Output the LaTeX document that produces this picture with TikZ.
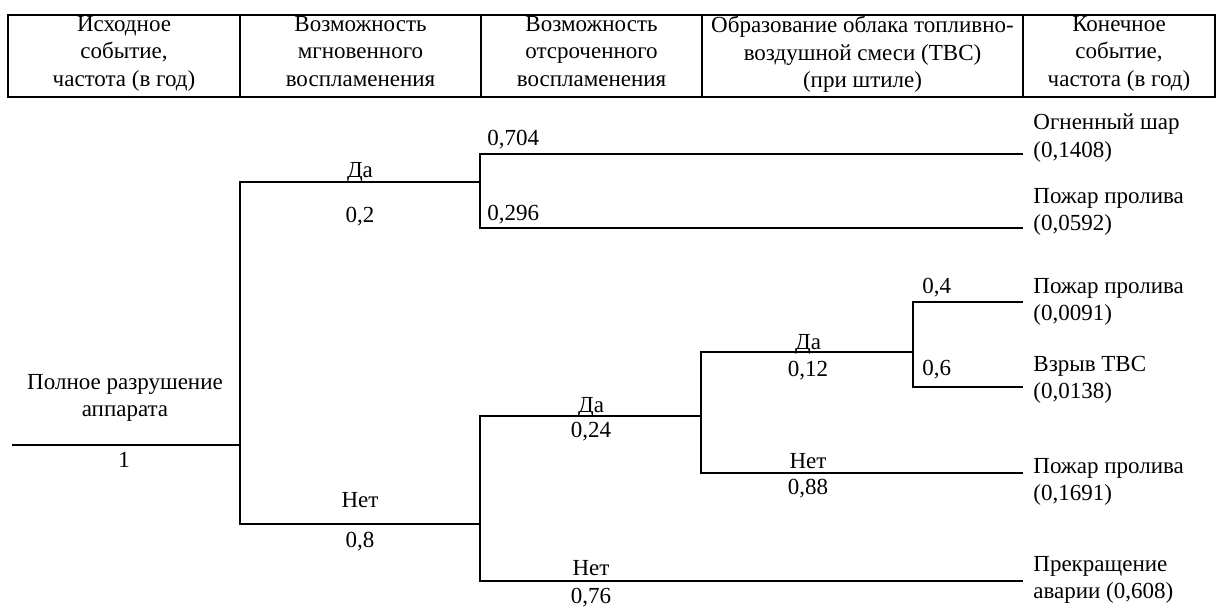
\documentclass[tikz,border=0pt]{standalone}
\usepackage{fontspec}
\setmainfont{Liberation Serif}
\newcommand{\treefont}{\fontsize{11.5}{13.75}\selectfont}
\tikzset{
  branch/.style={line width=1pt},
  lbl/.style={font=\treefont,inner sep=0pt,anchor=base},
  lblw/.style={lbl,anchor=base west},
  headtxt/.style={font=\treefont,inner sep=0pt,align=center,anchor=north,execute at begin node=\strut},
  endtxt/.style={font=\treefont,inner sep=0pt,align=left,anchor=north west,execute at begin node=\strut},
}

\begin{document}
\begin{tikzpicture}[x=0.5pt,y=-0.5pt]
\useasboundingbox (0,0) rectangle (1218,606);
% header
\draw[branch] (8,15) rectangle (1215,97);
\draw[branch] (240,15) -- (240,97);
\draw[branch] (481,15) -- (481,97);
\draw[branch] (702,15) -- (702,97);
\draw[branch] (1023,15) -- (1023,97);
\node[headtxt] (h1) at (124,15.75) {Исходное\\событие,\\частота (в год)};
\node[headtxt] (h2) at (360.5,15.75) {Возможность\\мгновенного\\воспламенения};
\node[headtxt] (h3) at (591.5,15.75) {Возможность\\отсроченного\\воспламенения};
\node[headtxt] (h4) at (862.5,15.75) {Образование облака топливно-\\воздушной смеси (ТВС)\\(при штиле)};
\node[headtxt] (h5) at (1119,15.75) {Конечное\\событие,\\частота (в год)};
% junctions
\coordinate (root) at (12,445);
\coordinate (j1) at (240,445);
\coordinate (j1u) at (240,182);
\coordinate (j1d) at (240,524);
\coordinate (j2) at (480,182);
\coordinate (j2u) at (480,154);
\coordinate (j2d) at (480,228);
\coordinate (j3) at (480,524);
\coordinate (j3u) at (480,416);
\coordinate (j3d) at (480,581);
\coordinate (j4) at (701,416);
\coordinate (j4u) at (701,352);
\coordinate (j4d) at (701,473);
\coordinate (j5) at (913,352);
\coordinate (j5u) at (913,302);
\coordinate (j5d) at (913,387);
% ends
\coordinate (f1) at (1023,154);
\coordinate (f2) at (1023,228);
\coordinate (f3) at (1023,302);
\coordinate (f4) at (1023,387);
\coordinate (f5) at (1023,473);
\coordinate (f6) at (1023,581);
% tree
\draw[branch] (root) -- (j1);
\draw[branch] (j2) -- (j1u) -- (j1d) -- (j3);
\draw[branch] (f1) -- (j2u) -- (j2d) -- (f2);
\draw[branch] (j4) -- (j3u) -- (j3d) -- (f6);
\draw[branch] (j5) -- (j4u) -- (j4d) -- (f5);
\draw[branch] (f3) -- (j5u) -- (j5d) -- (f4);
% labels
\node[headtxt] (start) at (125,373.75) {Полное разрушение\\аппарата};
\node[lbl] (one) at (124,467) {1};
\node[lbl] (da1) at (360,177) {Да};
\node[lbl] (p1) at (360,222) {0,2};
\node[lbl] (net1) at (360,507) {Нет};
\node[lbl] (p2) at (360,547) {0,8};
\node[lblw] (p3) at (487,145) {0,704};
\node[lblw] (p4) at (487,220) {0,296};
\node[lbl] (da2) at (591,412) {Да};
\node[lbl] (p5) at (591,437) {0,24};
\node[lbl] (net2) at (591,575) {Нет};
\node[lbl] (p6) at (591,603) {0,76};
\node[lbl] (da3) at (808,349) {Да};
\node[lbl] (p7) at (808,376) {0,12};
\node[lbl] (net3) at (808,468) {Нет};
\node[lbl] (p8) at (808,494) {0,88};
\node[lblw] (p9) at (922,293) {0,4};
\node[lblw] (p10) at (922,375) {0,6};
% end events
\node[endtxt] (e1) at (1033,113.75) {Огненный шар\\(0,1408)};
\node[endtxt] (e2) at (1033,187.75) {Пожар пролива\\(0,0592)};
\node[endtxt] (e3) at (1033,277.75) {Пожар пролива\\(0,0091)};
\node[endtxt] (e4) at (1033,355.75) {Взрыв ТВС\\(0,0138)};
\node[endtxt] (e5) at (1033,457.75) {Пожар пролива\\(0,1691)};
\node[endtxt] (e6) at (1033,555.75) {Прекращение\\аварии (0,608)};
\end{tikzpicture}
\end{document}
